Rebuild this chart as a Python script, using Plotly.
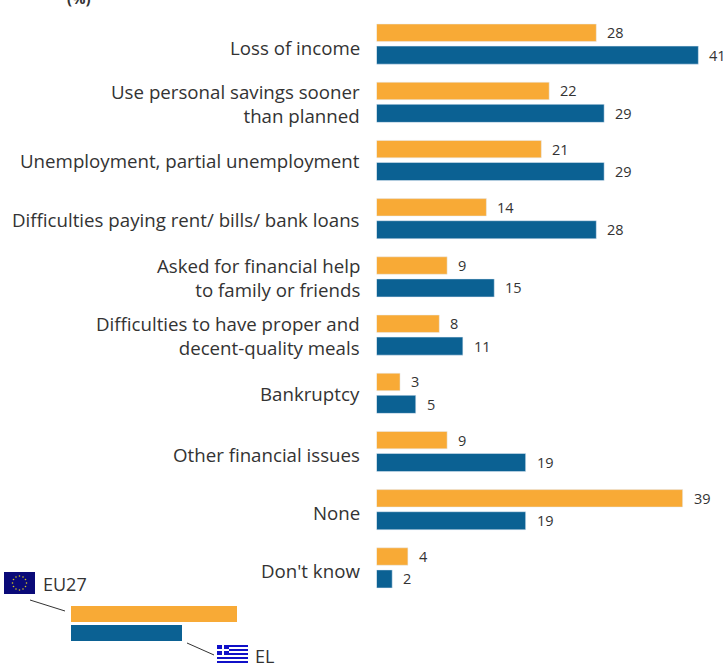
import plotly.graph_objects as go

categories = ["Loss of income", "Use personal savings sooner<br>than planned",
              "Unemployment, partial unemployment", "Difficulties paying rent/ bills/ bank loans",
              "Asked for financial help<br>to family or friends",
              "Difficulties to have proper and<br>decent-quality meals", "Bankruptcy",
              "Other financial issues", "None", "Don't know"]
eu27 = [28, 22, 21, 14, 9, 8, 3, 9, 39, 4]
el = [41, 29, 29, 28, 15, 11, 5, 19, 19, 2]
ORANGE = "#F8AA36"
BLUE = "#0B6193"
TXT = "#333333"
FONT = "Open Sans"
W, H = 726, 663
X0, PXU = 376.5, 7.85
Y0, PXC = 43.5, 58.2
LABEL_DROP = [3.5, 2, 1, 1, 1, 1, 1, 3.5, 3, 3.5]
positions = list(range(len(categories)))

fig = go.Figure()
fig.add_bar(y=positions, x=eu27, orientation="h", marker_color=ORANGE, width=0.30, offset=-0.335, name="EU27")
fig.add_bar(y=positions, x=el, orientation="h", marker_color=BLUE, width=0.31, offset=0.045, name="EL")


def px(x):
    return x / W


def py(y):
    return 1 - y / H


def rect(x0, y0, x1, y1, color):
    fig.add_shape(type="rect", xref="paper", yref="paper", x0=px(x0), x1=px(x1), y0=py(y0), y1=py(y1),
                  fillcolor=color, line_width=0, layer="above")


def line(x0, y0, x1, y1):
    fig.add_shape(type="line", xref="paper", yref="paper", x0=px(x0), x1=px(x1), y0=py(y0), y1=py(y1),
                  line=dict(color="#333333", width=1), layer="above")


def note(x, y, text, size=16, anchor="left", bold=False):
    fig.add_annotation(xref="paper", yref="paper", x=px(x), y=py(y), text=f"<b>{text}</b>" if bold else text,
                       showarrow=False, xanchor=anchor, yanchor="middle",
                       font=dict(family=FONT, size=size, color=TXT), align="left")


for i, (a, b) in enumerate(zip(eu27, el)):
    fig.add_annotation(x=a, y=i - 0.185, text=str(a), showarrow=False, xanchor="left", xshift=9,
                       font=dict(family=FONT, size=14.5, color=TXT))
    fig.add_annotation(x=b, y=i + 0.20, text=str(b), showarrow=False, xanchor="left", xshift=9,
                       font=dict(family=FONT, size=14.5, color=TXT))
    fig.add_annotation(x=0, y=i, text=categories[i], showarrow=False, xanchor="right", align="right",
                       xshift=-15, yshift=-LABEL_DROP[i], font=dict(family=FONT, size=18.7, color=TXT))

# legend key
rect(71, 606, 237, 622, ORANGE)
rect(71, 625, 182, 641, BLUE)
line(30, 600, 65, 611)
line(187, 643, 214, 655)
note(41, 584, "EU27", 18)
note(253, 656, "EL", 18)
note(65, -2, "(%)", 15, bold=True)
# EU flag
rect(4, 572, 35, 594, "#0A0A78")
for dx, dy in [(0, -7), (3.5, -6), (6, -3.5), (7, 0), (6, 3.5), (3.5, 6), (0, 7), (-3.5, 6), (-6, 3.5), (-7, 0), (-6, -3.5), (-3.5, -6)]:
    fig.add_shape(type="circle", xref="paper", yref="paper", x0=px(19.5 + dx - 0.8), x1=px(19.5 + dx + 0.8),
                  y0=py(583 + dy + 0.8), y1=py(583 + dy - 0.8), fillcolor="#D8C820", line_width=0, layer="above")
# Greek flag
rect(217, 645, 248, 663, "#FFFFFF")
for k in range(0, 5):
    rect(217, 645 + k * 4, 248, 647 + k * 4, "#1010C8")
rect(217, 645, 229, 655, "#1010C8")
rect(222, 645, 224, 655, "#FFFFFF")
rect(217, 649, 229, 651, "#FFFFFF")

fig.update_layout(
    width=W, height=H, margin=dict(l=0, r=0, t=0, b=0), barmode="overlay",
    paper_bgcolor="white", plot_bgcolor="white", showlegend=False,
    xaxis=dict(domain=[X0 / W, 1], range=[0, (W - X0) / PXU], visible=False, fixedrange=True),
    yaxis=dict(domain=[0, 1], range=[(H - Y0) / PXC, -Y0 / PXC], visible=False, fixedrange=True, anchor="x"),
)
fig.write_html("out.html", config={"displayModeBar": False},
               post_script="document.body.style.margin='0';document.body.style.overflow='hidden';")
